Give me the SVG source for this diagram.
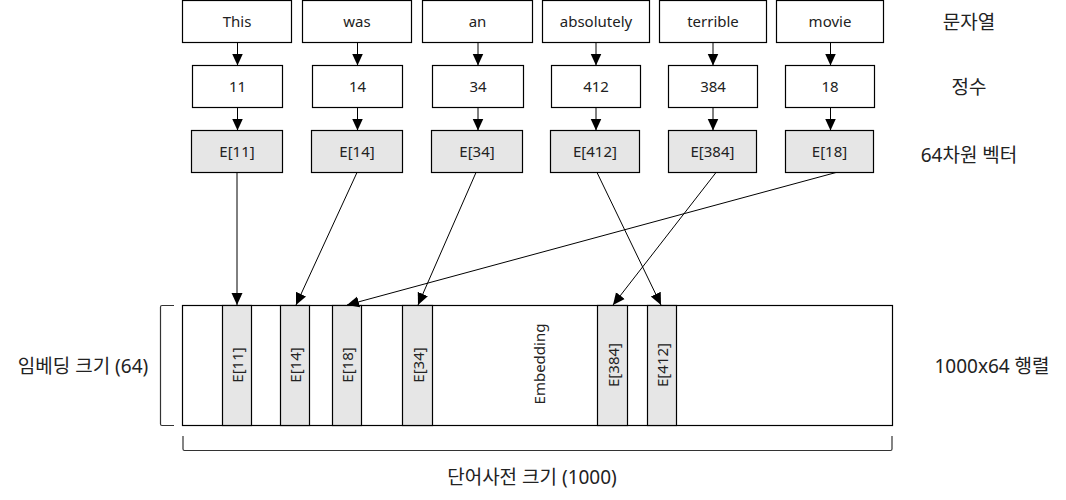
<svg xmlns="http://www.w3.org/2000/svg" width="1066" height="500" viewBox="0 0 1066 500">
<defs>
<marker id="ah" markerUnits="userSpaceOnUse" markerWidth="13" markerHeight="13" viewBox="0 0 13 13" refX="12" refY="6.5" orient="auto">
<path d="M0,1 L12,6.5 L0,12 Z" fill="#000"/>
</marker>
<style>
.b{fill:#fff;stroke:#000;stroke-width:1.2}
.g{fill:#e6e6e6;stroke:#000;stroke-width:1.2}
.t{font-family:"Noto Sans","Noto Sans CJK KR",sans-serif;font-size:15px;fill:#222;text-anchor:middle;dominant-baseline:central}
.k{font-family:"Noto Sans","Noto Sans CJK KR",sans-serif;font-size:19px;fill:#222;text-anchor:middle;dominant-baseline:central}
.c{stroke:#000;stroke-width:1;fill:none;marker-end:url(#ah)}
.br{stroke:#333;stroke-width:1.2;fill:none}
</style>
</defs>
<rect width="1066" height="500" fill="#fff"/>

<g id="words">
<g id="w-this"><rect class="b" x="182.5" y="0.5" width="109" height="42"/><text class="t" x="237" y="21">This</text></g>
<g id="w-was"><rect class="b" x="302.5" y="0.5" width="109" height="42"/><text class="t" x="357" y="21">was</text></g>
<g id="w-an"><rect class="b" x="422.5" y="0.5" width="110" height="42"/><text class="t" x="477.5" y="21">an</text></g>
<g id="w-absolutely"><rect class="b" x="542.5" y="0.5" width="107" height="42"/><text class="t" x="596" y="21">absolutely</text></g>
<g id="w-terrible"><rect class="b" x="659.5" y="0.5" width="107" height="42"/><text class="t" x="713" y="21">terrible</text></g>
<g id="w-movie"><rect class="b" x="776.5" y="0.5" width="107" height="42"/><text class="t" x="830" y="21">movie</text></g>
</g>

<g id="ints">
<g id="i-11"><rect class="b" x="192.5" y="65.5" width="90" height="42"/><text class="t" x="237.5" y="86">11</text></g>
<g id="i-14"><rect class="b" x="312.5" y="65.5" width="90" height="42"/><text class="t" x="357.5" y="86">14</text></g>
<g id="i-34"><rect class="b" x="432.5" y="65.5" width="91" height="42"/><text class="t" x="478" y="86">34</text></g>
<g id="i-412"><rect class="b" x="551.5" y="65.5" width="89" height="42"/><text class="t" x="596" y="86">412</text></g>
<g id="i-384"><rect class="b" x="668.5" y="65.5" width="89" height="42"/><text class="t" x="713" y="86">384</text></g>
<g id="i-18"><rect class="b" x="785.5" y="65.5" width="89" height="42"/><text class="t" x="830" y="86">18</text></g>
</g>

<g id="vecs">
<g id="e-11"><rect class="g" x="191.5" y="130.5" width="91" height="42"/><text class="t" x="237" y="151">E[11]</text></g>
<g id="e-14"><rect class="g" x="311.5" y="130.5" width="91" height="42"/><text class="t" x="357" y="151">E[14]</text></g>
<g id="e-34"><rect class="g" x="431.5" y="130.5" width="91" height="42"/><text class="t" x="477" y="151">E[34]</text></g>
<g id="e-412"><rect class="g" x="550.5" y="130.5" width="89" height="42"/><text class="t" x="595" y="151">E[412]</text></g>
<g id="e-384"><rect class="g" x="668.5" y="130.5" width="88" height="42"/><text class="t" x="712.5" y="151">E[384]</text></g>
<g id="e-18"><rect class="g" x="785.5" y="130.5" width="88" height="42"/><text class="t" x="829.5" y="151">E[18]</text></g>
</g>

<g id="matrix">
<rect class="b" x="182.5" y="305.5" width="710" height="120"/>
<g id="col-11"><rect class="g" x="222.5" y="305.5" width="29" height="120"/><text class="t" transform="translate(237,365) rotate(-90)">E[11]</text></g>
<g id="col-14"><rect class="g" x="280.5" y="305.5" width="29" height="120"/><text class="t" transform="translate(295,365) rotate(-90)">E[14]</text></g>
<g id="col-18"><rect class="g" x="332.5" y="305.5" width="29" height="120"/><text class="t" transform="translate(347,365) rotate(-90)">E[18]</text></g>
<g id="col-34"><rect class="g" x="402.5" y="305.5" width="30" height="120"/><text class="t" transform="translate(417.5,365) rotate(-90)">E[34]</text></g>
<g id="col-384"><rect class="g" x="597.5" y="305.5" width="30" height="120"/><text class="t" transform="translate(612.5,365) rotate(-90)">E[384]</text></g>
<g id="col-412"><rect class="g" x="647.5" y="305.5" width="29" height="120"/><text class="t" transform="translate(662,365) rotate(-90)">E[412]</text></g>
<text class="t" transform="translate(539,364) rotate(-90)">Embedding</text>
</g>

<g id="connectors">
<line class="c" x1="237.5" y1="42.5" x2="237.5" y2="65.5"/>
<line class="c" x1="357.5" y1="42.5" x2="357.5" y2="65.5"/>
<line class="c" x1="478" y1="42.5" x2="478" y2="65.5"/>
<line class="c" x1="596" y1="42.5" x2="596" y2="65.5"/>
<line class="c" x1="713" y1="42.5" x2="713" y2="65.5"/>
<line class="c" x1="830.5" y1="42.5" x2="830.5" y2="65.5"/>
<line class="c" x1="237.5" y1="107.5" x2="237.5" y2="130.5"/>
<line class="c" x1="357.5" y1="107.5" x2="357.5" y2="130.5"/>
<line class="c" x1="478" y1="107.5" x2="478" y2="130.5"/>
<line class="c" x1="596" y1="107.5" x2="596" y2="130.5"/>
<line class="c" x1="713" y1="107.5" x2="713" y2="130.5"/>
<line class="c" x1="830.5" y1="107.5" x2="830.5" y2="130.5"/>
<line class="c" x1="237" y1="172.5" x2="237" y2="305"/>
<line class="c" x1="357" y1="172.5" x2="296" y2="305"/>
<line class="c" x1="476" y1="172.5" x2="418" y2="305"/>
<line class="c" x1="597" y1="172.5" x2="661" y2="305"/>
<line class="c" x1="716" y1="172.5" x2="613" y2="305"/>
<line class="c" x1="836" y1="172.5" x2="347" y2="305"/>
</g>

<g id="braces">
<path class="br" d="M174,305.5 L162,305.5 Q160.5,305.5 160.5,307 L160.5,424 Q160.5,425.5 162,425.5 L174,425.5"/>
<path class="br" d="M183,436 L183,449 Q183,450.5 184.5,450.5 L890.5,450.5 Q892,450.5 892,449 L892,436"/>
</g>

<g id="labels">
<text class="k" x="969" y="22">문자열</text>
<text class="k" x="969" y="87">정수</text>
<text class="k" x="969" y="155">64차원 벡터</text>
<text class="k" x="992" y="366">1000x64 행렬</text>
<text class="k" x="83" y="366">임베딩 크기 (64)</text>
<text class="k" x="532" y="477">단어사전 크기 (1000)</text>
</g>
</svg>
